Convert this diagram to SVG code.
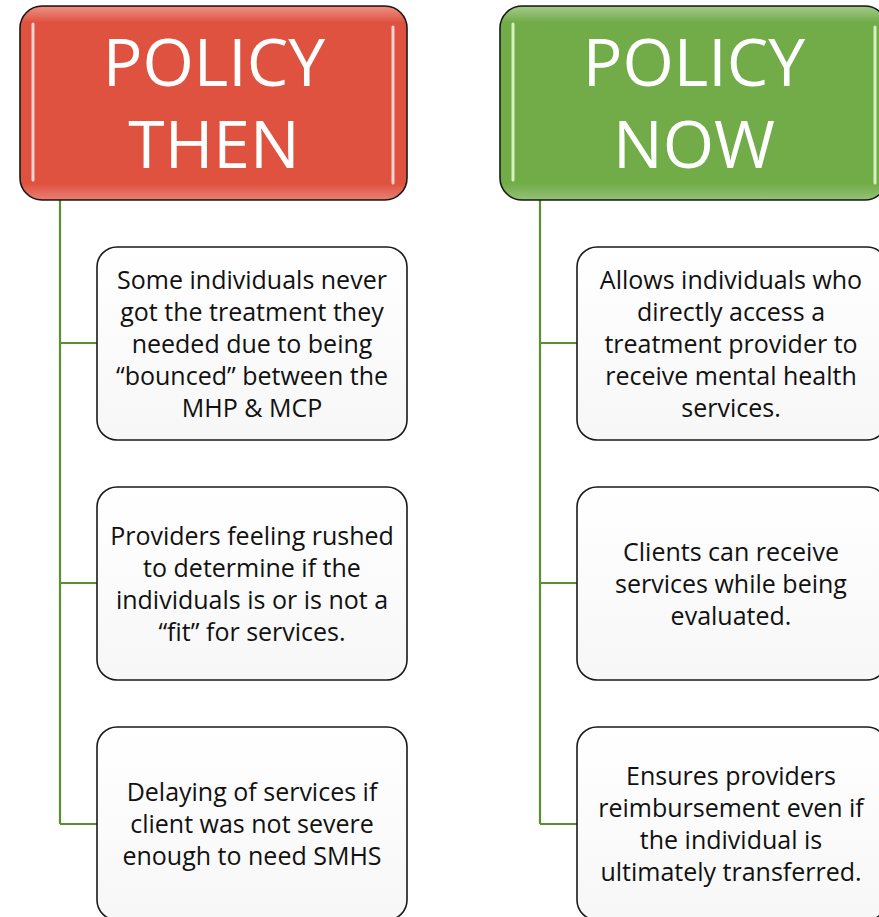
<svg xmlns="http://www.w3.org/2000/svg" width="879" height="917" viewBox="0 0 879 917">
<defs>
<linearGradient id="boxg" x1="0" y1="0" x2="0" y2="1">
<stop offset="0" stop-color="#ffffff"/>
<stop offset="1" stop-color="#f7f7f7"/>
</linearGradient>
<linearGradient id="topgloss" x1="0" y1="0" x2="0" y2="1">
<stop offset="0" stop-color="#ffffff" stop-opacity="0.35"/>
<stop offset="0.08" stop-color="#ffffff" stop-opacity="0"/>
<stop offset="0.92" stop-color="#ffffff" stop-opacity="0"/>
<stop offset="1" stop-color="#ffffff" stop-opacity="0.25"/>
</linearGradient>
</defs>
<style>
.hdr{stroke:#1a1a1a;stroke-width:1.6}
.red{fill:#E05240}
.green{fill:#71AC48}
.hl{stroke:#ffffff;stroke-width:3;stroke-linecap:round;opacity:0.75}
.hlg{stroke:#e8ffd0;stroke-width:3;stroke-linecap:round;opacity:0.85}
.ht{font-family:"Open Sans","Noto Sans",sans-serif;font-size:66px;fill:#ffffff;text-anchor:middle}
.box{fill:url(#boxg);stroke:#1a1a1a;stroke-width:1.6}
.bt{font-family:"Open Sans","Noto Sans",sans-serif;font-size:25px;fill:#111111;text-anchor:middle}
.conn{fill:none;stroke:#5A8F34;stroke-width:2.2}
</style>
<g id="connectors">
<path class="conn" d="M60 200 V824 M60 343 H97 M60 583 H97 M60 824 H97"/>
<path class="conn" d="M540 200 V824 M540 343 H577 M540 583 H577 M540 824 H577"/>
</g>
<g id="policy-then">
<rect class="hdr red" x="20" y="6" width="387" height="194" rx="22"/>
<rect x="21" y="7" width="385" height="192" rx="21" fill="url(#topgloss)"/>
<line class="hl" x1="33" y1="24" x2="33" y2="180"/>
<line class="hl" x1="393" y1="27" x2="393" y2="183"/>
<text class="ht" x="214" y="86">POLICY</text>
<text class="ht" x="214" y="168">THEN</text>
</g>
<g id="policy-now">
<rect class="hdr green" x="500" y="6" width="387" height="194" rx="22"/>
<rect x="501" y="7" width="385" height="192" rx="21" fill="url(#topgloss)"/>
<line class="hlg" x1="513" y1="24" x2="513" y2="180"/>
<line class="hlg" x1="875" y1="27" x2="875" y2="183"/>
<text class="ht" x="694" y="86">POLICY</text>
<text class="ht" x="694" y="168">NOW</text>
</g>
<g id="then-1">
<rect class="box" x="97" y="247" width="310" height="193" rx="20"/>
<text class="bt" x="252" y="289">Some individuals never</text>
<text class="bt" x="252" y="321">got the treatment they</text>
<text class="bt" x="252" y="353">needed due to being</text>
<text class="bt" x="252" y="385">“bounced” between the</text>
<text class="bt" x="252" y="417">MHP &amp; MCP</text>
</g>
<g id="then-2">
<rect class="box" x="97" y="487" width="310" height="193" rx="20"/>
<text class="bt" x="252" y="545">Providers feeling rushed</text>
<text class="bt" x="252" y="577">to determine if the</text>
<text class="bt" x="252" y="609">individuals is or is not a</text>
<text class="bt" x="252" y="641">“fit” for services.</text>
</g>
<g id="then-3">
<rect class="box" x="97" y="727" width="310" height="193" rx="20"/>
<text class="bt" x="252" y="801">Delaying of services if</text>
<text class="bt" x="252" y="833">client was not severe</text>
<text class="bt" x="252" y="865">enough to need SMHS</text>
</g>
<g id="now-1">
<rect class="box" x="577" y="247" width="310" height="193" rx="20"/>
<text class="bt" x="731" y="289">Allows individuals who</text>
<text class="bt" x="731" y="321">directly access a</text>
<text class="bt" x="731" y="353">treatment provider to</text>
<text class="bt" x="731" y="385">receive mental health</text>
<text class="bt" x="731" y="417">services.</text>
</g>
<g id="now-2">
<rect class="box" x="577" y="487" width="310" height="193" rx="20"/>
<text class="bt" x="731" y="561">Clients can receive</text>
<text class="bt" x="731" y="593">services while being</text>
<text class="bt" x="731" y="625">evaluated.</text>
</g>
<g id="now-3">
<rect class="box" x="577" y="727" width="310" height="193" rx="20"/>
<text class="bt" x="731" y="785">Ensures providers</text>
<text class="bt" x="731" y="817">reimbursement even if</text>
<text class="bt" x="731" y="849">the individual is</text>
<text class="bt" x="731" y="881">ultimately transferred.</text>
</g>
</svg>
